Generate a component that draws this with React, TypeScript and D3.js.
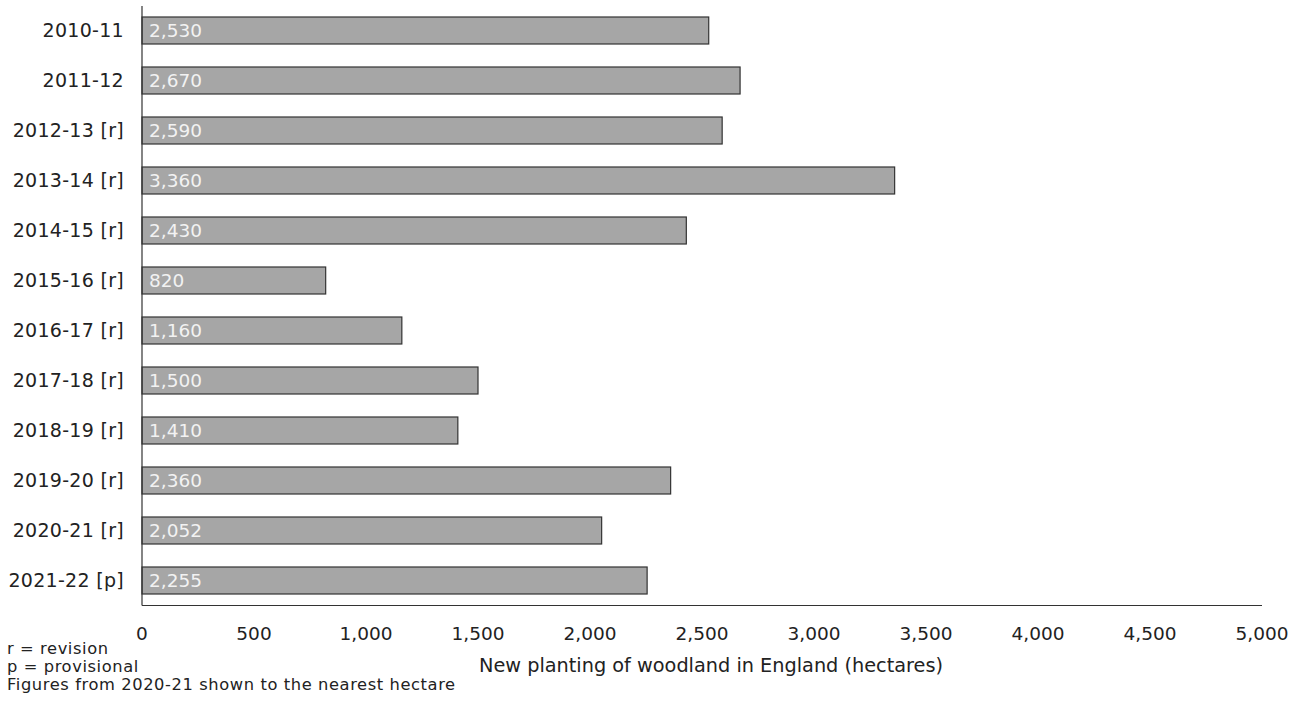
import React from "react";
import * as d3 from "d3";

const categories = ["2010-11", "2011-12", "2012-13 [r]", "2013-14 [r]", "2014-15 [r]", "2015-16 [r]", "2016-17 [r]", "2017-18 [r]", "2018-19 [r]", "2019-20 [r]", "2020-21 [r]", "2021-22 [p]"];
const values = [2530, 2670, 2590, 3360, 2430, 820, 1160, 1500, 1410, 2360, 2052, 2255];
const xTicks = [0, 500, 1000, 1500, 2000, 2500, 3000, 3500, 4000, 4500, 5000];
const notes = ["r = revision", "p = provisional", "Figures from 2020-21 shown to the nearest hectare"];
const xTitle = "New planting of woodland in England (hectares)";

const W = 1302;
const H = 701;
const FONT = "'DejaVu Sans', Verdana, sans-serif";

export default function App() {
  const x = d3.scaleLinear().domain([0, 5000]).range([142, 1262]);
  const y = d3.scaleBand<string>().domain(categories).range([5.5, 605.5]).paddingInner(0.46).paddingOuter(0.23);
  const fmt = d3.format(",");
  return (
    <svg width={W} height={H} style={{ position: "absolute", left: 0, top: 0, fontFamily: FONT }}>
      {categories.map((c, i) => (
        <g key={c}>
          <rect x={x(0)} y={y(c)!} width={x(values[i]) - x(0)} height={y.bandwidth()} fill="#a6a6a6" stroke="#333" strokeWidth={1.2} />
          <text x={x(0) + 7} y={y(c)! + y.bandwidth() / 2} dy="0.36em" fill="#f2f2f2" fontSize={18.5}>{fmt(values[i])}</text>
          <text x={124} y={y(c)! + y.bandwidth() / 2} dy="0.36em" textAnchor="end" fill="#222" fontSize={19} letterSpacing={0.3}>{c}</text>
        </g>
      ))}
      <line x1={x(0)} x2={x(0)} y1={6} y2={605.5} stroke="#333" strokeWidth={1.2} />
      <line x1={x(0)} x2={x(5000)} y1={605.5} y2={605.5} stroke="#333" strokeWidth={1.2} />
      {xTicks.map(t => (
        <text key={t} x={x(t)} y={633} dy="0.36em" textAnchor="middle" fill="#222" fontSize={18.5}>{fmt(t)}</text>
      ))}
      <text x={(x(0) + x(5000)) / 2 + 9} y={665} dy="0.36em" textAnchor="middle" fill="#222" fontSize={19.3}>{xTitle}</text>
      {notes.map((n, i) => (
        <text key={n} x={7} y={648 + i * 18} dy="0.36em" fill="#222" fontSize={16.3} letterSpacing={0.6}>{n}</text>
      ))}
    </svg>
  );
}
